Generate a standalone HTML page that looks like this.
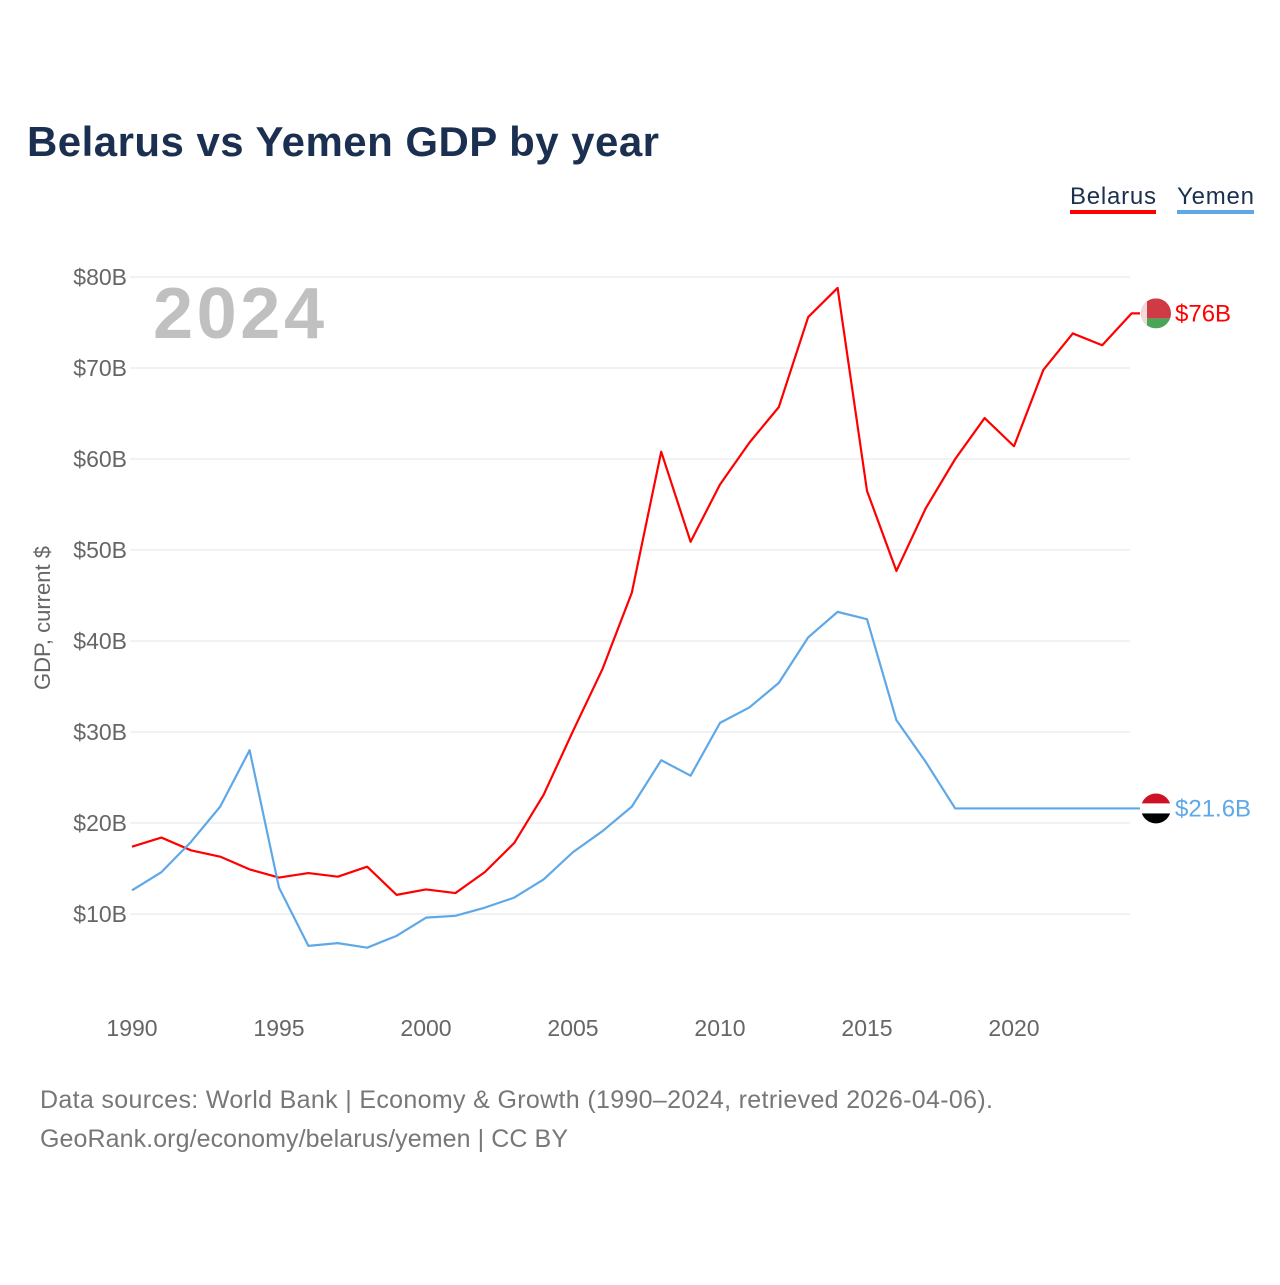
<!DOCTYPE html>
<html><head><meta charset="utf-8"><style>
body{margin:0;background:#fff;font-family:"Liberation Sans",sans-serif}
svg text{font-family:"Liberation Sans",sans-serif}
</style></head><body>
<svg width="1280" height="1280" id="c">
<text x="27" y="156" font-size="42" font-weight="bold" fill="#1b3050" textLength="632">Belarus vs Yemen GDP by year</text>
<g><text x="1070" y="204" font-size="24" fill="#1b3050" textLength="86">Belarus</text><rect x="1070" y="210" width="86" height="4" fill="#ff0000"/></g>
<g><text x="1177" y="204" font-size="24" fill="#1b3050" textLength="77">Yemen</text><rect x="1177" y="210" width="77" height="4" fill="#5fa8e8"/></g>
<text x="153" y="338" font-size="72" font-weight="bold" fill="#c0c0c0" textLength="171">2024</text>
<text transform="translate(50,618) rotate(-90)" text-anchor="middle" font-size="22" fill="#666">GDP, current $</text>
<g id="grid"></g><g id="lines"></g>
<text x="40" y="1108" font-size="25" fill="#777" textLength="953">Data sources: World Bank | Economy &amp; Growth (1990–2024, retrieved 2026-04-06).</text>
<text x="40" y="1147" font-size="25" fill="#777" textLength="528">GeoRank.org/economy/belarus/yemen | CC BY</text>
</svg>
<script>
const years=[];for(let y=1990;y<=2024;y++)years.push(y);
const belarus=[17.4,18.4,17.0,16.3,14.9,14.0,14.5,14.1,15.2,12.1,12.7,12.3,14.6,17.8,23.1,30.1,36.9,45.3,60.8,50.9,57.2,61.8,65.7,75.6,78.8,56.5,47.7,54.6,60.0,64.5,61.4,69.8,73.8,72.5,76.0];
const yemen=[12.6,14.6,17.9,21.8,28.0,12.9,6.5,6.8,6.3,7.6,9.6,9.8,10.7,11.8,13.8,16.8,19.1,21.8,26.9,25.2,31.0,32.7,35.4,40.4,43.2,42.4,31.3,26.7,21.6,21.6,21.6,21.6,21.6,21.6,21.6];
const yTicks=[10,20,30,40,50,60,70,80];
const xTicks=[1990,1995,2000,2005,2010,2015,2020];
const X=v=>132+(v-1990)*29.4, Y=v=>1005-v*9.1;
const NS='http://www.w3.org/2000/svg';
const g=document.getElementById('grid'),L=document.getElementById('lines');
function mk(t,a,p,txt){const e=document.createElementNS(NS,t);for(const k in a)e.setAttribute(k,a[k]);if(txt)e.textContent=txt;p.appendChild(e);return e;}
yTicks.forEach(v=>{
 const l=mk('line',{x1:130,x2:1130,y1:Y(v),y2:Y(v),stroke:'#e6e6e6','stroke-width':1},g);
 
 
 const t=mk('text',{x:127,y:Y(v)+8,'text-anchor':'end','font-size':23,fill:'#666'},g,'$'+v+'B');
 
 
});
xTicks.forEach(v=>{
 const t=mk('text',{x:X(v),y:1036,'text-anchor':'middle','font-size':23,fill:'#666'},g,String(v));
 
 
});
function line(d,col,name){
 const pts=d.map((v,i)=>X(years[i])+','+Y(v));
 const last=d[d.length-1];
 pts.push('1140,'+Y(last));
 const p=mk('polyline',{points:pts.join(' '),fill:'none',stroke:col,'stroke-width':2.2,'stroke-linejoin':'round'},L);
 
 
 const t=mk('text',{x:1175,y:Y(last)+8,'font-size':24,fill:col},L,'$'+last+'B');
 
 
 return Y(last);
}
const yb=line(belarus,'#ff0000','belarus');
const yy=line(yemen,'#5fa8e8','yemen');
let f=mk('g',{},L);
mk('clipPath',{id:'cb'},f).appendChild(document.createElementNS(NS,'circle'));
const cb=f.querySelector('circle');cb.setAttribute('cx',1156);cb.setAttribute('cy',yb);cb.setAttribute('r',15);
mk('rect',{x:1141,y:yb-15,width:30,height:20,fill:'#cf3a44','clip-path':'url(#cb)'},f);
mk('rect',{x:1141,y:yb+5,width:30,height:10,fill:'#4aa657','clip-path':'url(#cb)'},f);
mk('rect',{x:1141,y:yb-15,width:6,height:30,fill:'#f3dada','clip-path':'url(#cb)'},f);
f=mk('g',{},L);
mk('clipPath',{id:'cy'},f).appendChild(document.createElementNS(NS,'circle'));
const cy=f.querySelectorAll('circle')[0];cy.setAttribute('cx',1156);cy.setAttribute('cy',yy);cy.setAttribute('r',15);
mk('rect',{x:1141,y:yy-15,width:30,height:10,fill:'#ce1126','clip-path':'url(#cy)'},f);
mk('rect',{x:1141,y:yy-5,width:30,height:10,fill:'#fff','clip-path':'url(#cy)'},f);
mk('rect',{x:1141,y:yy+5,width:30,height:10,fill:'#000','clip-path':'url(#cy)'},f);
</script>
</body></html>
